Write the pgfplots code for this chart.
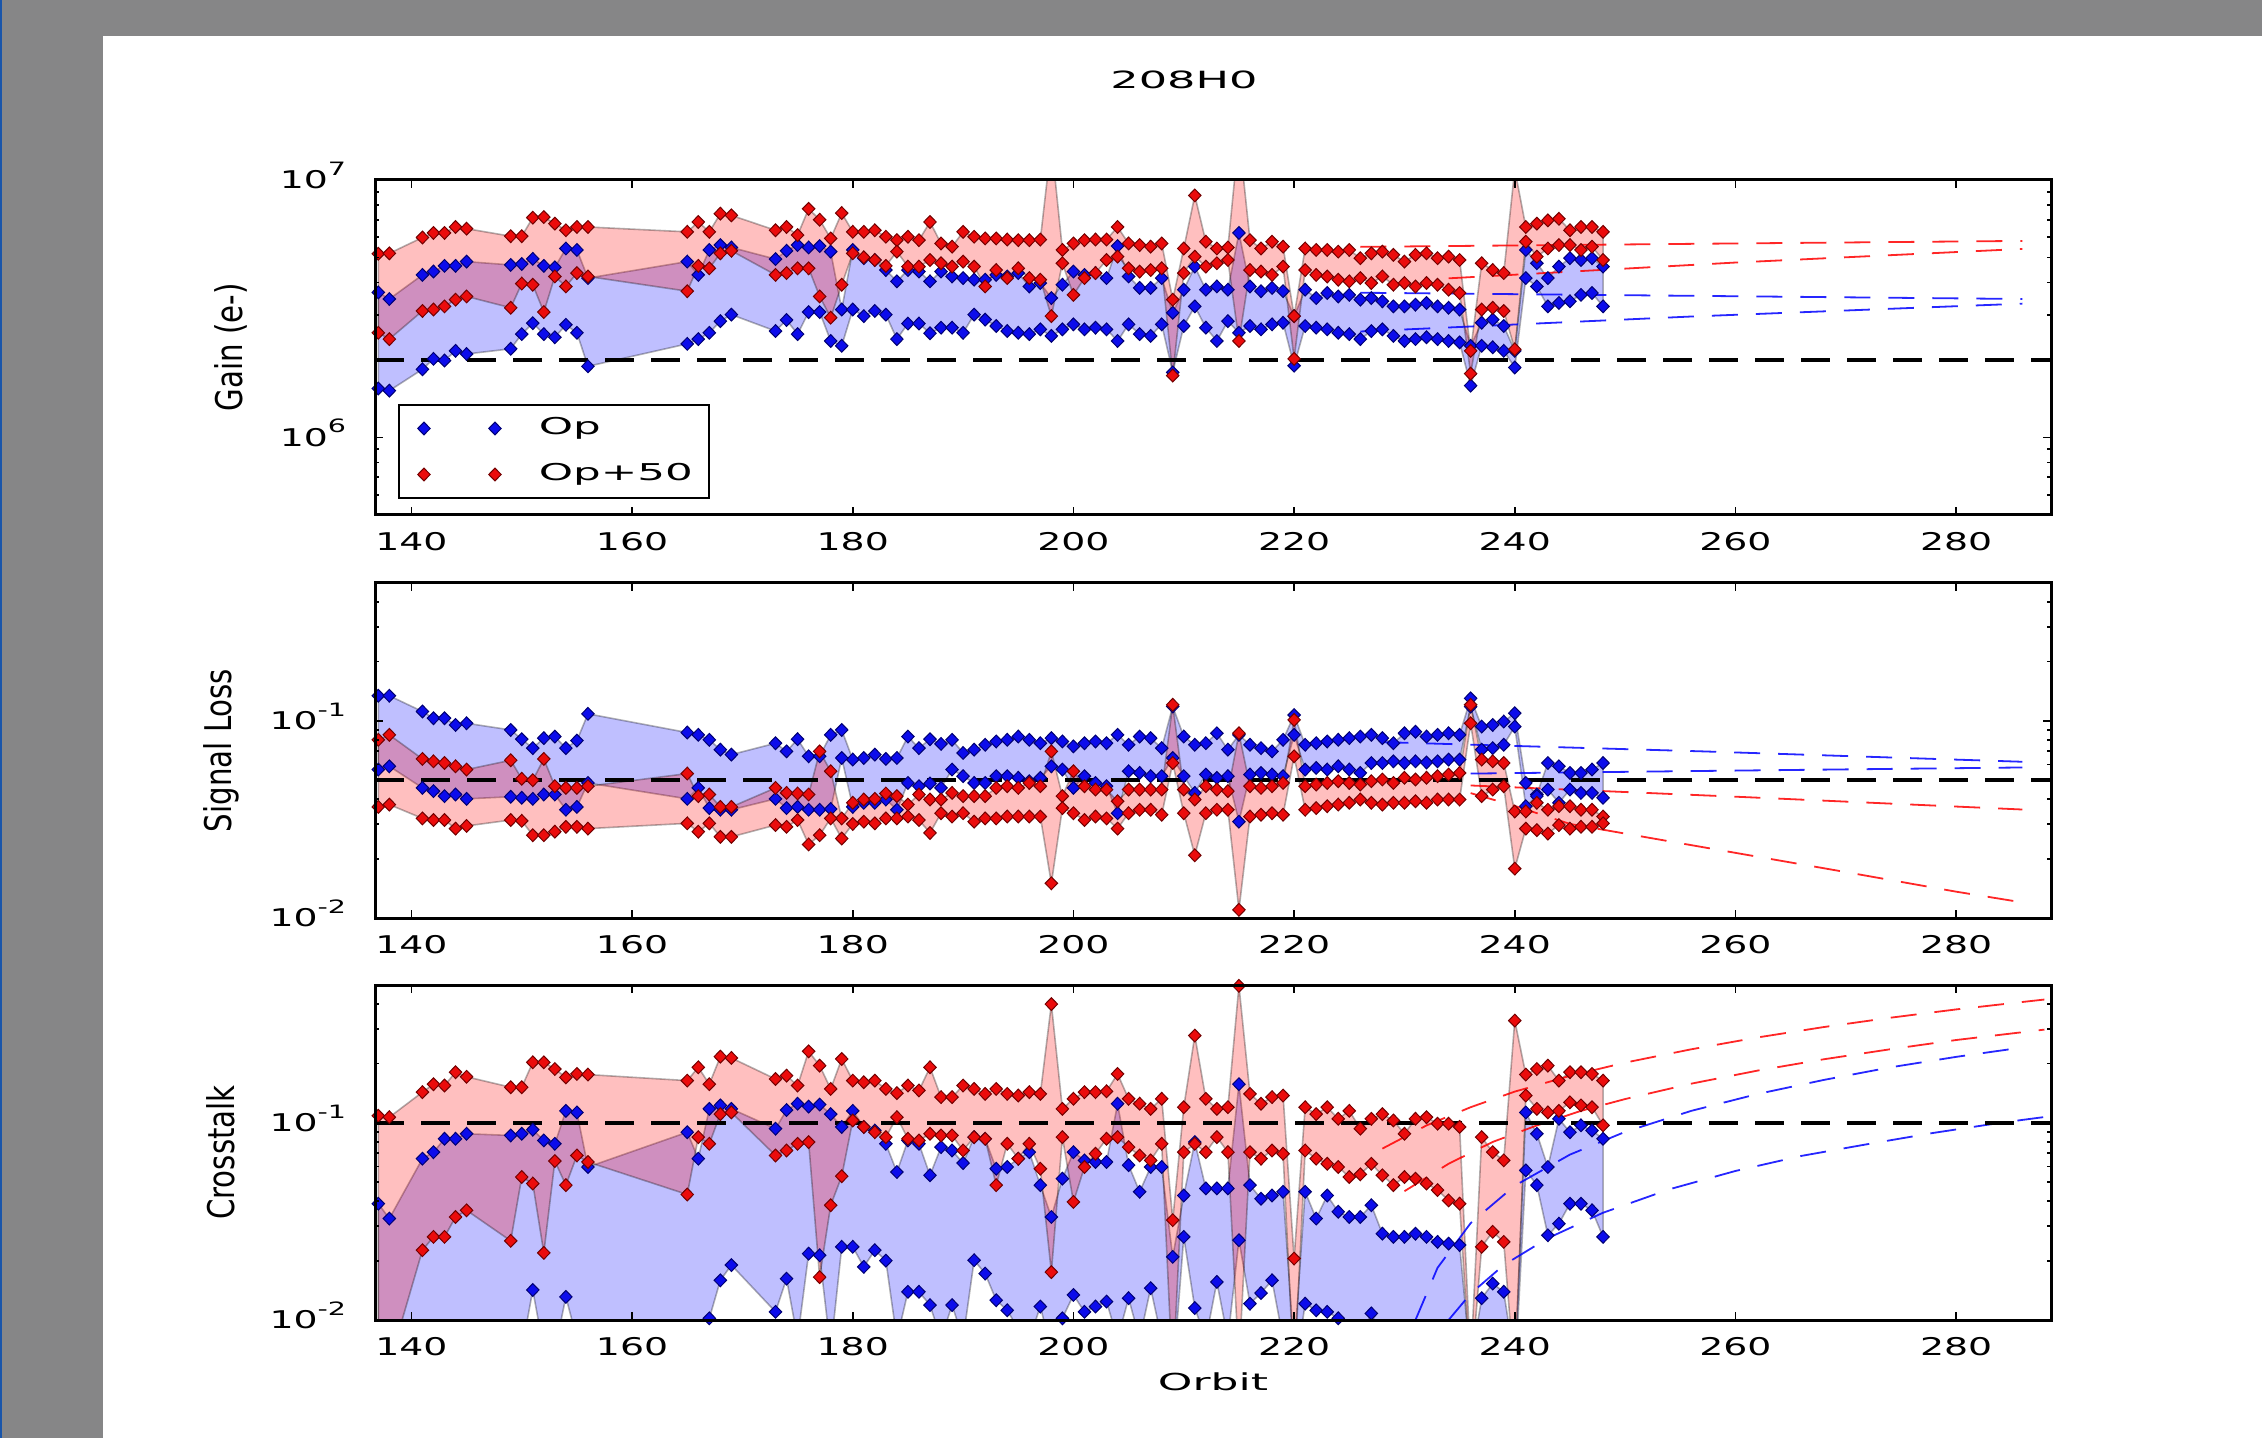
\documentclass[border=0pt]{standalone}
\usepackage{fontspec}
\setmainfont{DejaVu Sans}[FakeStretch=1.88]
\newfontfamily\tickfam{DejaVu Sans}[FakeStretch=1.55]
\newfontfamily\ylabfam{DejaVu Sans}[FakeStretch=0.795]
\usepackage{pgfplots}
\pgfplotsset{compat=1.18}
\usepackage{pgfplotstable}
\usepgfplotslibrary{fillbetween}

\newcommand\ticfont{\tickfam\fontsize{6.1pt}{7pt}\selectfont}
\newcommand\supfont{\tickfam\fontsize{4.6pt}{5pt}\selectfont}
\newcommand\decade[1]{10\raisebox{3.4pt}{\supfont #1}}
\newcommand\titlefont{\fontsize{5.93pt}{7pt}\selectfont}
\newcommand\legfont{\fontsize{5.8pt}{7pt}\selectfont}
\newcommand\labfont{\fontsize{5.85pt}{7pt}\selectfont}
\newcommand\ylabfont{\ylabfam\fontsize{9.2pt}{10pt}\selectfont}

\definecolor{slide}{RGB}{134,134,135}
\definecolor{slideedge}{RGB}{25,85,170}
\definecolor{mkblue}{RGB}{12,12,235}
\definecolor{mkred}{RGB}{235,12,12}

% orbit, Op (upper/lower), Op+50 (upper/lower)
\pgfplotstableread{
x bu bl ru rl
137 3.66e6 1.55e6 5.17e6 2.55e6
138 3.45e6 1.52e6 5.19e6 2.41e6
141 4.28e6 1.84e6 5.98e6 3.10e6
142 4.41e6 2.02e6 6.23e6 3.14e6
143 4.64e6 1.99e6 6.23e6 3.23e6
144 4.64e6 2.17e6 6.57e6 3.43e6
145 4.82e6 2.11e6 6.47e6 3.53e6
149 4.68e6 2.21e6 6.05e6 3.19e6
150 4.72e6 2.52e6 6.05e6 3.96e6
151 4.94e6 2.78e6 7.14e6 3.92e6
152 4.64e6 2.52e6 7.18e6 3.07e6
153 4.58e6 2.45e6 6.77e6 4.22e6
154 5.42e6 2.74e6 6.38e6 3.86e6
155 5.35e6 2.55e6 6.57e6 4.35e6
156 4.16e6 1.89e6 6.57e6 4.22e6
165 4.82e6 2.31e6 6.29e6 3.70e6
166 4.28e6 2.41e6 6.87e6 4.64e6
167 5.35e6 2.55e6 6.29e6 4.54e6
168 5.59e6 2.83e6 7.40e6 5.19e6
169 5.47e6 3.00e6 7.29e6 5.31e6
173 4.93e6 2.59e6 6.38e6 4.28e6
174 5.31e6 2.86e6 6.57e6 4.35e6
175 5.59e6 2.52e6 6.11e6 4.54e6
176 5.47e6 3.07e6 7.73e6 4.54e6
177 5.54e6 3.07e6 7.01e6 3.53e6
178 5.27e6 2.37e6 5.93e6 2.92e6
179 3.14e6 2.27e6 7.44e6 3.92e6
180 5.35e6 3.14e6 6.29e6 5.19e6
181 4.97e6 2.96e6 6.29e6 5.01e6
182 4.89e6 3.10e6 6.38e6 4.89e6
183 4.47e6 3.00e6 6.02e6 4.64e6
184 4.04e6 2.41e6 5.84e6 5.27e6
185 4.47e6 2.77e6 6.02e6 4.61e6
186 4.41e6 2.77e6 5.84e6 4.61e6
187 4.04e6 2.54e6 6.87e6 4.89e6
188 4.41e6 2.67e6 5.67e6 4.75e6
189 4.22e6 2.67e6 5.51e6 4.61e6
190 4.16e6 2.55e6 6.29e6 4.82e6
191 4.10e6 3.00e6 6.02e6 4.61e6
192 4.10e6 2.87e6 5.93e6 3.86e6
193 4.28e6 2.71e6 5.93e6 4.47e6
194 4.22e6 2.59e6 5.87e6 4.16e6
195 4.35e6 2.55e6 5.84e6 4.54e6
196 3.86e6 2.52e6 5.84e6 4.16e6
197 3.98e6 2.63e6 5.87e6 4.10e6
198 3.48e6 2.48e6 1.40e7 2.96e6
199 3.92e6 2.63e6 5.35e6 4.75e6
200 4.41e6 2.75e6 5.67e6 3.58e6
201 4.28e6 2.63e6 5.84e6 4.16e6
202 4.35e6 2.67e6 5.87e6 4.35e6
203 4.16e6 2.63e6 5.87e6 4.89e6
204 5.54e6 2.37e6 6.57e6 5.04e6
205 4.22e6 2.75e6 5.67e6 4.54e6
206 3.81e6 2.52e6 5.59e6 4.41e6
207 3.81e6 2.48e6 5.51e6 4.47e6
208 4.16e6 2.75e6 5.67e6 4.54e6
209 3.05e6 1.79e6 3.43e6 1.74e6
210 3.75e6 2.71e6 5.42e6 4.35e6
211 4.61e6 3.23e6 8.71e6 5.04e6
212 3.75e6 2.67e6 5.76e6 4.61e6
213 3.86e6 2.37e6 5.42e6 4.75e6
214 3.75e6 2.83e6 5.47e6 4.89e6
215 6.23e6 2.55e6 1.50e7 2.37e6
216 3.86e6 2.71e6 5.84e6 4.47e6
217 3.70e6 2.63e6 5.42e6 4.41e6
218 3.81e6 2.75e6 5.76e6 4.28e6
219 3.70e6 2.79e6 5.51e6 4.61e6
220 2.96e6 1.90e6 2.96e6 2.02e6
221 3.75e6 2.71e6 5.42e6 4.47e6
222 3.48e6 2.67e6 5.35e6 4.28e6
223 3.64e6 2.63e6 5.35e6 4.22e6
224 3.53e6 2.55e6 5.27e6 4.10e6
225 3.58e6 2.52e6 5.35e6 4.04e6
226 3.43e6 2.41e6 4.97e6 4.16e6
227 3.48e6 2.59e6 5.19e6 3.98e6
228 3.38e6 2.63e6 5.27e6 4.22e6
229 3.23e6 2.48e6 5.12e6 3.92e6
230 3.23e6 2.37e6 4.82e6 3.98e6
231 3.28e6 2.41e6 5.12e6 3.86e6
232 3.33e6 2.45e6 5.19e6 3.98e6
233 3.23e6 2.41e6 4.97e6 3.92e6
234 3.19e6 2.37e6 5.04e6 3.75e6
235 3.14e6 2.34e6 4.89e6 3.64e6
236 2.27e6 1.59e6 2.17e6 1.77e6
237 2.79e6 2.27e6 4.75e6 3.14e6
238 2.87e6 2.24e6 4.47e6 3.19e6
239 2.71e6 2.17e6 4.35e6 3.10e6
240 2.17e6 1.87e6 1.10e7 2.20e6
241 5.35e6 4.16e6 6.57e6 5.76e6
242 4.75e6 3.86e6 6.77e6 5.04e6
243 4.16e6 3.23e6 6.97e6 5.42e6
244 4.61e6 3.33e6 7.07e6 5.59e6
245 4.97e6 3.38e6 6.38e6 5.59e6
246 4.89e6 3.58e6 6.57e6 5.35e6
247 4.97e6 3.64e6 6.57e6 5.51e6
248 4.61e6 3.23e6 6.29e6 4.89e6
}\gainT

\pgfplotstableread{
x bu bl ru rl
137 0.134 0.0566 0.0801 0.0366
138 0.134 0.0588 0.0849 0.0376
141 0.1115 0.0457 0.0641 0.0320
142 0.1031 0.0440 0.0623 0.0314
143 0.1031 0.0415 0.0611 0.0314
144 0.0953 0.0423 0.0588 0.0284
145 0.0972 0.0402 0.0566 0.0293
149 0.0899 0.0412 0.0631 0.0314
150 0.0807 0.0407 0.0508 0.0311
151 0.0727 0.0402 0.0500 0.0263
152 0.0817 0.0423 0.0641 0.0263
153 0.0832 0.0423 0.0466 0.0274
154 0.0727 0.0354 0.0457 0.0290
155 0.0794 0.0366 0.0457 0.0290
156 0.1085 0.0484 0.0466 0.0284
165 0.0872 0.0402 0.0540 0.0302
166 0.0849 0.0457 0.0415 0.0274
167 0.0801 0.0361 0.0423 0.0302
168 0.0714 0.0354 0.0366 0.0258
169 0.0674 0.0354 0.0366 0.0258
173 0.0770 0.0402 0.0457 0.0296
174 0.0700 0.0361 0.0431 0.0290
175 0.0807 0.0366 0.0428 0.0314
176 0.0661 0.0354 0.0423 0.0236
177 0.0661 0.0354 0.0700 0.0263
178 0.0849 0.0357 0.0555 0.0320
179 0.0899 0.0648 0.0320 0.0253
180 0.0636 0.0366 0.0384 0.0300
181 0.0648 0.0384 0.0399 0.0308
182 0.0674 0.0384 0.0402 0.0302
183 0.0641 0.0399 0.0428 0.0320
184 0.0648 0.0354 0.0415 0.0320
185 0.0832 0.0484 0.0376 0.0327
186 0.0727 0.0466 0.0423 0.0314
187 0.0807 0.0481 0.0399 0.0270
188 0.0764 0.0457 0.0399 0.0340
189 0.0801 0.0566 0.0431 0.0327
190 0.0687 0.0524 0.0415 0.0340
191 0.0714 0.0484 0.0415 0.0308
192 0.0756 0.0484 0.0415 0.0320
193 0.0786 0.0524 0.0457 0.0320
194 0.0801 0.0524 0.0466 0.0327
195 0.0832 0.0514 0.0457 0.0327
196 0.0801 0.0494 0.0484 0.0327
197 0.0770 0.0514 0.0466 0.0327
198 0.0817 0.0588 0.0700 0.0150
199 0.0786 0.0566 0.0415 0.0361
200 0.0742 0.0457 0.0555 0.0340
201 0.0770 0.0524 0.0466 0.0314
202 0.0786 0.0484 0.0448 0.0327
203 0.0770 0.0466 0.0448 0.0320
204 0.0849 0.0340 0.0391 0.0284
205 0.0756 0.0555 0.0448 0.0340
206 0.0832 0.0544 0.0448 0.0354
207 0.0817 0.0524 0.0448 0.0354
208 0.0727 0.0524 0.0448 0.0334
209 0.1183 0.0648 0.1206 0.0611
210 0.0832 0.0524 0.0448 0.0340
211 0.0756 0.0431 0.0399 0.0208
212 0.0770 0.0534 0.0466 0.0340
213 0.0865 0.0514 0.0448 0.0354
214 0.0714 0.0524 0.0440 0.0354
215 0.0849 0.0308 0.0865 0.0110
216 0.0756 0.0534 0.0466 0.0327
217 0.0727 0.0544 0.0457 0.0334
218 0.0700 0.0534 0.0466 0.0340
219 0.0801 0.0524 0.0484 0.0334
220 0.1070 0.0849 0.1011 0.0661
221 0.0756 0.0566 0.0466 0.0354
222 0.0770 0.0577 0.0475 0.0361
223 0.0786 0.0566 0.0484 0.0369
224 0.0801 0.0588 0.0494 0.0376
225 0.0817 0.0566 0.0484 0.0384
226 0.0832 0.0544 0.0475 0.0399
227 0.0849 0.0611 0.0494 0.0384
228 0.0817 0.0611 0.0504 0.0376
229 0.0770 0.0623 0.0484 0.0384
230 0.0865 0.0611 0.0514 0.0384
231 0.0880 0.0623 0.0504 0.0391
232 0.0832 0.0615 0.0514 0.0384
233 0.0849 0.0623 0.0524 0.0399
234 0.0865 0.0636 0.0534 0.0399
235 0.0849 0.0636 0.0544 0.0399
236 0.1300 0.1180 0.1206 0.0972
237 0.0935 0.0714 0.0636 0.0415
238 0.0953 0.0727 0.0623 0.0448
239 0.0991 0.0756 0.0611 0.0466
240 0.1093 0.0935 0.0347 0.0178
241 0.0484 0.0369 0.0347 0.0284
242 0.0423 0.0415 0.0384 0.0279
243 0.0611 0.0448 0.0354 0.0268
244 0.0588 0.0384 0.0369 0.0296
245 0.0544 0.0448 0.0369 0.0284
246 0.0544 0.0431 0.0354 0.0290
247 0.0566 0.0431 0.0354 0.0290
248 0.0611 0.0407 0.0327 0.0302
}\lossT

\pgfplotstableread{
x bu bl ru rl
137 0.0389 0.006 0.1086 0.006
138 0.0327 0.006 0.1068 0.006
141 0.0658 0.006 0.1431 0.0226
142 0.0710 0.006 0.1570 0.0264
143 0.0830 0.006 0.1546 0.0264
144 0.0830 0.006 0.1806 0.0333
145 0.0880 0.006 0.1712 0.0360
149 0.0863 0.006 0.1515 0.0252
150 0.0880 0.007 0.1515 0.0531
151 0.0923 0.0142 0.2027 0.0492
152 0.0814 0.007 0.2027 0.0219
153 0.0783 0.007 0.1875 0.0640
154 0.1150 0.0131 0.1700 0.0483
155 0.1129 0.008 0.1770 0.0683
156 0.0597 0.007 0.1757 0.0633
165 0.0896 0.008 0.1637 0.0433
166 0.0658 0.009 0.1912 0.0846
167 0.1177 0.0102 0.1570 0.0783
168 0.1226 0.0159 0.2166 0.1107
169 0.1177 0.0190 0.2133 0.1129
173 0.0934 0.0110 0.1668 0.0683
174 0.1161 0.0162 0.1735 0.0724
175 0.1250 0.008 0.1546 0.0783
176 0.1209 0.0217 0.2305 0.0799
177 0.1238 0.0213 0.1950 0.0165
178 0.1107 0.007 0.1486 0.0382
179 0.0953 0.0235 0.2108 0.0536
180 0.1150 0.0235 0.1637 0.1028
181 0.0953 0.0186 0.1606 0.0953
182 0.0914 0.0226 0.1637 0.0896
183 0.0783 0.0200 0.1486 0.0846
184 0.0563 0.008 0.1414 0.1068
185 0.0814 0.0139 0.1546 0.0830
186 0.0783 0.0139 0.1460 0.0814
187 0.0542 0.0119 0.1912 0.0880
188 0.0753 0.008 0.1350 0.0863
189 0.0724 0.0119 0.1350 0.0863
190 0.0625 0.008 0.1546 0.0724
191 0.0846 0.0201 0.1486 0.0846
192 0.0830 0.0172 0.1402 0.0830
193 0.0585 0.0126 0.1486 0.0483
194 0.0597 0.0112 0.1402 0.0783
195 0.0658 0.009 0.1375 0.0658
196 0.0710 0.008 0.1431 0.0783
197 0.0483 0.0117 0.1402 0.0585
198 0.0333 0.007 0.4000 0.0175
199 0.0521 0.0102 0.1177 0.0846
200 0.0710 0.0134 0.1324 0.0397
201 0.0645 0.0110 0.1431 0.0597
202 0.0633 0.0117 0.1431 0.0697
203 0.0633 0.0124 0.1445 0.0830
204 0.1250 0.008 0.1770 0.0846
205 0.0610 0.0129 0.1324 0.0753
206 0.0447 0.008 0.1250 0.0683
207 0.0597 0.0145 0.1177 0.0645
208 0.0597 0.008 0.1324 0.0783
209 0.0209 0.005 0.0321 0.005
210 0.0428 0.0264 0.1200 0.0710
211 0.0799 0.0115 0.2770 0.0783
212 0.0465 0.008 0.1324 0.0710
213 0.0465 0.0156 0.1177 0.0846
214 0.0465 0.008 0.1200 0.0710
215 0.1570 0.0254 0.4950 0.006
216 0.0483 0.0121 0.1402 0.0710
217 0.0412 0.0137 0.1250 0.0658
218 0.0428 0.0159 0.1350 0.0724
219 0.0447 0.008 0.1375 0.0697
220 0.007 0.005 0.0205 0.005
221 0.0447 0.0121 0.1200 0.0724
222 0.0327 0.0112 0.1107 0.0658
223 0.0428 0.0110 0.1200 0.0620
224 0.0354 0.0102 0.1048 0.0597
225 0.0333 0.008 0.1150 0.0531
226 0.0333 0.008 0.0934 0.0548
227 0.0382 0.0108 0.1048 0.0620
228 0.0274 0.008 0.1107 0.0542
229 0.0264 0.007 0.1028 0.0483
230 0.0264 0.007 0.0880 0.0531
231 0.0274 0.007 0.1048 0.0521
232 0.0264 0.007 0.1068 0.0492
233 0.0249 0.007 0.0990 0.0456
234 0.0244 0.007 0.0990 0.0404
235 0.0240 0.007 0.0953 0.0389
236 0.006 0.005 0.006 0.005
237 0.0129 0.006 0.0846 0.0235
238 0.0153 0.006 0.0710 0.0280
239 0.0139 0.006 0.0645 0.0249
240 0.006 0.005 0.3300 0.005
241 0.1129 0.0574 0.1757 0.1375
242 0.0880 0.0483 0.1875 0.1177
243 0.0597 0.0269 0.1950 0.1129
244 0.1048 0.0308 0.1637 0.1150
245 0.0896 0.0389 0.1806 0.1270
246 0.0971 0.0389 0.1806 0.1226
247 0.0914 0.0360 0.1770 0.1200
248 0.0830 0.0264 0.1637 0.0971
}\xtalkT

\pgfplotsset{
  every axis/.append style={
    scale only axis, width=419pt, height=83.75pt,
    xmin=136.7, xmax=288.6,
    xtick={140,160,180,200,220,240,260,280},
    xticklabels={140,160,180,200,220,240,260,280},
    tick align=inside,
    major tick length=2pt, minor tick length=1.1pt,
    tick style={black, line width=0.45pt},
    axis line style={line width=0.75pt},
    ticklabel style={font=\ticfont},
    xticklabel style={yshift=-0.7pt},
    yticklabel style={anchor=base east, yshift=-2.2pt, xshift=-3.7pt},
    axis on top,
  },
  bandB/.style={fill=blue, fill opacity=0.25, draw=black, draw opacity=0.3, line width=0.4pt},
  bandR/.style={fill=red, fill opacity=0.25, draw=black, draw opacity=0.3, line width=0.4pt},
  markB/.style={only marks, mark=diamond*, mark size=1.6pt,
    mark options={fill=mkblue, draw=blue!45!black, line width=0.25pt, xscale=1.3}},
  markR/.style={only marks, mark=diamond*, mark size=1.6pt,
    mark options={fill=mkred, draw=red!45!black, line width=0.25pt, xscale=1.3}},
  fitB/.style={blue, line width=0.45pt, dash pattern=on 6.5pt off 4.5pt, opacity=0.85},
  fitR/.style={red, line width=0.45pt, dash pattern=on 6.5pt off 4.5pt, opacity=0.85},
  thresh/.style={black, line width=1.1pt, dash pattern=on 7.2pt off 4.3pt},
}

\begin{document}
\begin{tikzpicture}
% slide backdrop around the figure canvas (canvas itself stays unpainted white)
\fill[slide] (0pt,0pt) rectangle (25.75pt,359.5pt);
\fill[slide] (25.75pt,350.5pt) rectangle (565.5pt,359.5pt);
\fill[slideedge] (0pt,0pt) rectangle (0.5pt,359.5pt);
\node[font=\titlefont] at (296pt,339.5pt) {208H0};

% ---------------- Gain ----------------
\begin{axis}[at={(93.75pt,230.75pt)}, anchor=south west,
  ymode=log, ymin=5e5, ymax=1e7,
  ytick={1e6,1e7}, yticklabels={\decade{6},\decade{7}},
  minor ytick={6e5,7e5,8e5,9e5,2e6,3e6,4e6,5e6,6e6,7e6,8e6,9e6},
  ylabel={Gain (e-)},
  ylabel style={at={(axis description cs:-0.0859,0.5)}, anchor=center, font=\ylabfont},
  legend style={at={(0.0137,0.048)}, anchor=south west, draw=black, line width=0.6pt,
    fill=white, font=\legfont, inner xsep=2pt, inner ysep=0.9pt, row sep=1.7pt,
    cells={anchor=west},
    /tikz/every odd column/.append style={column sep=7.4pt}},
  legend image code/.code={\path (0pt,0pt); \draw[#1] plot coordinates {(3.9pt,0pt) (21.65pt,0pt)};},
]
\addplot[draw=none, name path=gbu, forget plot] table[x=x, y=bu] {\gainT};
\addplot[draw=none, name path=gbl, forget plot] table[x=x, y=bl] {\gainT};
\addplot[draw=none, name path=gru, forget plot] table[x=x, y=ru] {\gainT};
\addplot[draw=none, name path=grl, forget plot] table[x=x, y=rl] {\gainT};
\addplot[bandB, forget plot] fill between[of=gbu and gbl];
\addplot[bandR, forget plot] fill between[of=gru and grl];
\addplot[markB] table[x=x, y=bu] {\gainT};
\addlegendentry{Op}
\addplot[markB, forget plot] table[x=x, y=bl] {\gainT};
\addplot[markR] table[x=x, y=ru] {\gainT};
\addlegendentry{Op+50}
\addplot[markR, forget plot] table[x=x, y=rl] {\gainT};
% trend extrapolations
\addplot[fitR, forget plot] coordinates {(226,5.5e6) (256,5.65e6) (286,5.8e6)};
\addplot[fitR, forget plot] coordinates {(234,4.15e6) (260,4.78e6) (286,5.4e6)};
\addplot[fitB, forget plot] coordinates {(226,3.65e6) (256,3.55e6) (286,3.45e6)};
\addplot[fitB, forget plot] coordinates {(226,2.58e6) (256,2.95e6) (286,3.31e6)};
\addplot[thresh, forget plot] coordinates {(136.7,2e6) (288.6,2e6)};
\end{axis}

% ---------------- Signal loss ----------------
\begin{axis}[at={(93.75pt,130pt)}, anchor=south west,
  ymode=log, ymin=0.01, ymax=0.5,
  ytick={0.01,0.1}, yticklabels={\decade{-2},\decade{-1}},
  minor ytick={0.02,0.03,0.04,0.05,0.06,0.07,0.08,0.09,0.2,0.3,0.4},
  ylabel={Signal Loss},
  ylabel style={at={(axis description cs:-0.0919,0.5)}, anchor=center, font=\ylabfont},
]
\addplot[draw=none, name path=sbu] table[x=x, y=bu] {\lossT};
\addplot[draw=none, name path=sbl] table[x=x, y=bl] {\lossT};
\addplot[draw=none, name path=sru] table[x=x, y=ru] {\lossT};
\addplot[draw=none, name path=srl] table[x=x, y=rl] {\lossT};
\addplot[bandB] fill between[of=sbu and sbl];
\addplot[bandR] fill between[of=sru and srl];
\addplot[markB] table[x=x, y=bu] {\lossT};
\addplot[markB] table[x=x, y=bl] {\lossT};
\addplot[markR] table[x=x, y=ru] {\lossT};
\addplot[markR] table[x=x, y=rl] {\lossT};
\addplot[fitB] coordinates {(228,0.078) (257,0.070) (286,0.062)};
\addplot[fitB] coordinates {(236,0.054) (261,0.056) (286,0.058)};
\addplot[fitR] coordinates {(236,0.047) (261,0.041) (286,0.0355)};
\addplot[fitR] coordinates {(236,0.043) (240,0.037) (245,0.030) (250,0.0268) (260,0.0214) (270,0.0171) (280,0.0136) (286,0.012)};
\addplot[thresh] coordinates {(136.7,0.05) (288.6,0.05)};
\end{axis}

% ---------------- Crosstalk ----------------
\begin{axis}[at={(93.75pt,29.5pt)}, anchor=south west,
  ymode=log, ymin=0.01, ymax=0.5,
  ytick={0.01,0.1}, yticklabels={\decade{-2},\decade{-1}},
  minor ytick={0.02,0.03,0.04,0.05,0.06,0.07,0.08,0.09,0.2,0.3,0.4},
  ylabel={Crosstalk},
  ylabel style={at={(axis description cs:-0.0919,0.5)}, anchor=center, font=\ylabfont},
  xlabel={Orbit},
  xlabel style={at={(axis description cs:0.5,0)}, anchor=center, yshift=-15.5pt, font=\labfont},
]
\addplot[draw=none, name path=cbu] table[x=x, y=bu] {\xtalkT};
\addplot[draw=none, name path=cbl] table[x=x, y=bl] {\xtalkT};
\addplot[draw=none, name path=cru] table[x=x, y=ru] {\xtalkT};
\addplot[draw=none, name path=crl] table[x=x, y=rl] {\xtalkT};
\addplot[bandB] fill between[of=cbu and cbl];
\addplot[bandR] fill between[of=cru and crl];
\addplot[markB] table[x=x, y=bu] {\xtalkT};
\addplot[markB] table[x=x, y=bl] {\xtalkT};
\addplot[markR] table[x=x, y=ru] {\xtalkT};
\addplot[markR] table[x=x, y=rl] {\xtalkT};
\addplot[fitR] coordinates {(228,0.074) (232,0.097) (236,0.120) (240,0.144) (245,0.173) (250,0.202) (256,0.236) (262,0.271) (268,0.306) (274,0.341) (280,0.376) (288,0.422)};
\addplot[fitR] coordinates {(230,0.045) (234,0.062) (238,0.080) (242,0.097) (246,0.115) (250,0.132) (256,0.158) (262,0.184) (268,0.210) (274,0.236) (280,0.263) (288,0.297)};
\addplot[fitB] coordinates {(231,0.010) (233,0.0184) (236,0.031) (240,0.048) (245,0.069) (250,0.090) (256,0.115) (262,0.140) (268,0.165) (274,0.191) (280,0.216) (286,0.241)};
\addplot[fitB] coordinates {(234,0.010) (236,0.0136) (239,0.019) (243,0.026) (248,0.035) (254,0.046) (260,0.057) (266,0.068) (272,0.078) (278,0.089) (284,0.100) (288,0.107)};
\addplot[thresh] coordinates {(136.7,0.1) (288.6,0.1)};
\end{axis}
\end{tikzpicture}
\end{document}
